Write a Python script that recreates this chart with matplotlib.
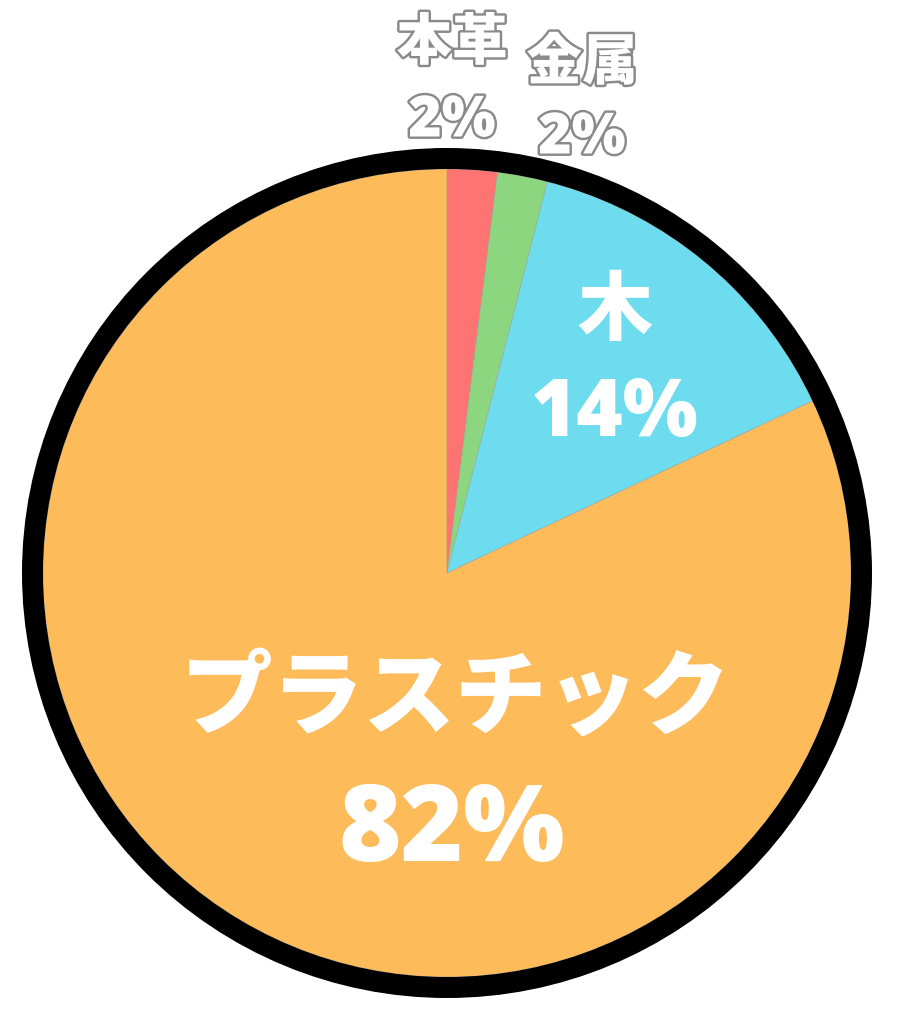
import matplotlib.pyplot as plt
import matplotlib.patheffects as pe
from matplotlib.patches import Circle

# --- data ---
labels = ["本革", "金属", "木", "プラスチック"]
shares = [2, 2, 14, 82]
colors = ["#FE7473", "#8BD67E", "#6DDCEF", "#FDBB5A"]

W, H = 897, 1024
cx, cy = 447, H - 573
r_in = 404

fig = plt.figure(figsize=(W / 100, H / 100), dpi=100)
ax = fig.add_axes([0, 0, 1, 1])

ax.pie(shares, colors=colors, startangle=90, counterclock=False,
       center=(cx, cy), radius=r_in,
       wedgeprops=dict(linewidth=0.3, edgecolor="#999999"))
ax.set_xlim(0, W)
ax.set_ylim(0, H)
ax.set_aspect("equal")
ax.axis("off")

# thick black rim
ax.add_patch(Circle((cx, cy), r_in + 10.5, fill=False, lw=21 * 0.72, color="black"))

jp = ["Noto Sans CJK JP", "DejaVu Sans"]
num = ["Open Sans", "Noto Sans CJK JP", "DejaVu Sans"]
outline = [pe.withStroke(linewidth=3.5, foreground="#8a8a8a")]

# small outside labels (white with grey outline)
for (x, y1, y2), lab, s in zip([(452, 43, 122), (582, 63, 139)], labels[:2], shares[:2]):
    ax.text(x, H - y1, lab, family=jp, weight="black", fontsize=40, color="white",
            ha="center", va="center", path_effects=outline)
    ax.text(x, H - y2, f"{s}%", family=num, weight=800, fontsize=41, color="white",
            ha="center", va="center", path_effects=outline)

# inside labels
ax.text(615, H - 312, labels[2], family=jp, weight="black", fontsize=54,
        color="white", ha="center", va="center")
ax.text(615, H - 415, f"{shares[2]}%", family=num, weight=800, fontsize=57,
        color="white", ha="center", va="center")

ax.text(456, H - 700, labels[3], family=jp, weight="black", fontsize=66,
        color="white", ha="center", va="center")
ax.text(452, H - 833, f"{shares[3]}%", family=num, weight=800, fontsize=77,
        color="white", ha="center", va="center")

fig.savefig("out.png", dpi=100)
